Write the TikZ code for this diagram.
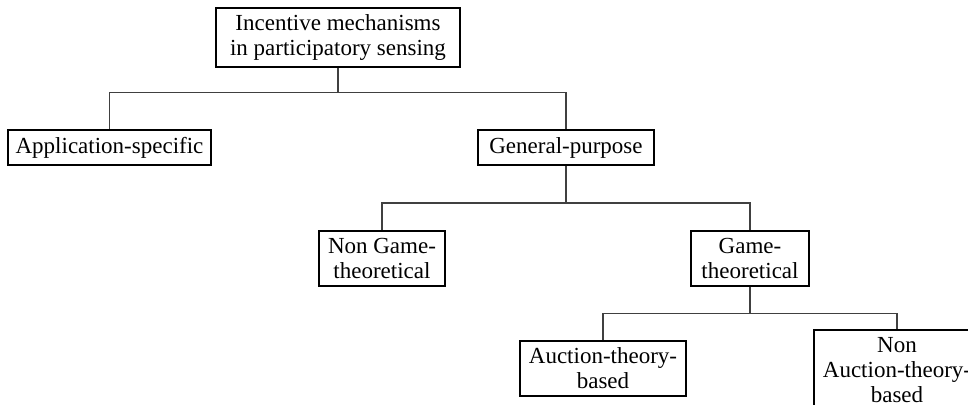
\documentclass[tikz,border=0pt]{standalone}
\usepackage{fontspec}
\setmainfont{Liberation Serif}
\begin{document}
\begin{tikzpicture}[x=0.5pt,y=-0.5pt,
  box/.style={draw=black, line width=1pt, fill=white, inner sep=0pt, align=center,
    font=\fontsize{11.5pt}{12.5pt}\selectfont},
  link/.style={draw=black!75, line width=0.6pt}]
\useasboundingbox (0,0) rectangle (968,405);
\clip (0,0) rectangle (968,405);
\node[box, minimum width=122pt, minimum height=29.5pt] (root) at (338,37.5) {Incentive mechanisms\\in participatory sensing};
\node[box, minimum width=101.5pt, minimum height=17.5pt] (app) at (109.5,147.5) {Application-specific};
\node[box, minimum width=88pt, minimum height=17.5pt] (gen) at (566,147.5) {General-purpose};
\node[box, minimum width=63pt, minimum height=27.5pt] (nongame) at (382,258.5) {Non Game-\\theoretical};
\node[box, minimum width=59pt, minimum height=27.5pt] (game) at (750,258.5) {Game-\\theoretical};
\node[box, minimum width=83pt, minimum height=27.5pt] (auction) at (603,368.5) {Auction-theory-\\based};
\node[box, minimum width=83pt, minimum height=40pt] (nonauction) at (897,370) {Non\\Auction-theory-\\based};
\coordinate (b1) at (338,92.7);
\coordinate (b2) at (566,203);
\coordinate (b3) at (750,313.3);
\draw[link] (root.south) -- (b1);
\draw[link] (b1) -| (app.north);
\draw[link] (b1) -| (gen.north);
\draw[link] (gen.south) -- (b2);
\draw[link] (b2) -| (nongame.north);
\draw[link] (b2) -| (game.north);
\draw[link] (game.south) -- (b3);
\draw[link] (b3) -| (auction.north);
\draw[link] (b3) -| (nonauction.north);
\end{tikzpicture}
\end{document}
